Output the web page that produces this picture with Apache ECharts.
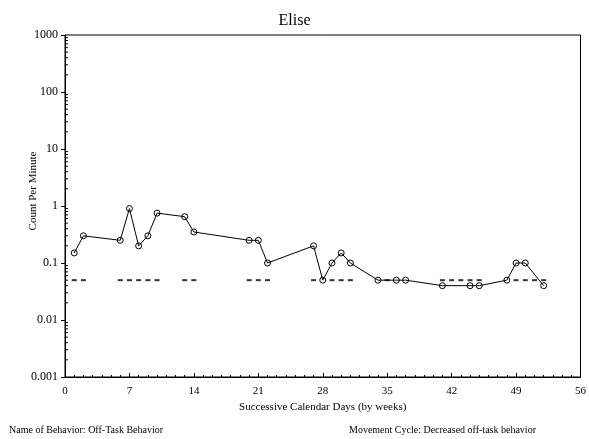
<!DOCTYPE html>
<html>
<head>
<meta charset="utf-8">
<script src="https://cdn.jsdelivr.net/npm/echarts@6/dist/echarts.min.js"></script>
<style>html,body{margin:0;padding:0;background:#fff}#c{width:589px;height:439px}</style>
</head>
<body>
<div id="c"></div>
<script>
// Data
var days = [1, 2, 6, 7, 8, 9, 10, 13, 14, 20, 21, 22, 27, 28, 29, 30, 31, 34, 36, 37, 41, 44, 45, 48, 49, 50, 52];
var counts = [0.15, 0.3, 0.25, 0.9, 0.2, 0.3, 0.75, 0.65, 0.35, 0.25, 0.25, 0.1, 0.2, 0.05, 0.1, 0.15, 0.1, 0.05, 0.05, 0.05, 0.04, 0.04, 0.04, 0.05, 0.1, 0.1, 0.04];
var floorDays = [1, 2, 6, 7, 8, 9, 10, 13, 14, 20, 21, 22, 27, 28, 29, 30, 31, 34, 35, 36, 37, 41, 42, 43, 44, 45, 48, 49, 50, 51, 52];
var floorValues = [0.05, 0.05, 0.05, 0.05, 0.05, 0.05, 0.05, 0.05, 0.05, 0.05, 0.05, 0.05, 0.05, 0.05, 0.05, 0.05, 0.05, 0.05, 0.05, 0.05, 0.05, 0.05, 0.05, 0.05, 0.05, 0.05, 0.05, 0.05, 0.05, 0.05, 0.05];
var xTicks = [0, 7, 14, 21, 28, 35, 42, 49, 56];
var yTickLabels = ['0.001', '0.01', '0.1', '1', '10', '100', '1000'];

var serif = '"Liberation Serif", "DejaVu Serif", serif';

var minorY = [];
for (var k = -3; k <= 2; k++) {
  for (var m = 2; m <= 9; m++) minorY.push([0, m * Math.pow(10, k)]);
}
var points = days.map(function (d, i) { return [d, counts[i]]; });

var chart = echarts.init(document.getElementById('c'), null, {renderer: 'canvas'});
chart.setOption({
  animation: false,
  backgroundColor: '#fff',
  title: {
    text: 'Elise', left: 'center', top: 8,
    textStyle: {fontFamily: serif, fontSize: 16, fontWeight: 'normal', color: '#000'}
  },
  grid: {left: 65, right: 7, top: 35, bottom: 62, show: true, borderColor: '#000', borderWidth: 1, backgroundColor: 'transparent'},
  xAxis: {
    type: 'value', min: 0, max: 56, interval: 7,
    axisLine: {lineStyle: {color: '#000', width: 1}},
    axisTick: {inside: true, length: 4, lineStyle: {color: '#000'}},
    minorTick: {show: true, splitNumber: 7, length: 2, lineStyle: {color: '#000'}},
    splitLine: {show: false},
    axisLabel: {fontFamily: serif, fontSize: 11, color: '#000', margin: 9,
      formatter: function (v) { return xTicks.indexOf(v) >= 0 ? String(v) : ''; }},
    name: 'Successive Calendar Days (by weeks)', nameLocation: 'middle', nameGap: 23,
    nameTextStyle: {fontFamily: serif, fontSize: 11, color: '#000'}
  },
  yAxis: {
    type: 'log', logBase: 10, min: 0.001, max: 1000,
    axisLine: {show: true, lineStyle: {color: '#000', width: 1}},
    axisTick: {show: true, inside: false, length: 4, lineStyle: {color: '#000'}},
    splitLine: {show: false},
    axisLabel: {fontFamily: serif, fontSize: 12, color: '#000', margin: 7,
      formatter: function (v) {
        var e = Math.round(Math.log10(v));
        return yTickLabels[e + 3] || '';
      }}
  },
  graphic: [
    {type: 'text', x: 33, y: 191, rotation: Math.PI / 2,
      style: {text: 'Count Per Minute', font: '11px ' + serif, fill: '#000', align: 'center', verticalAlign: 'middle'}},
    {type: 'text', left: 9, top: 425,
      style: {text: 'Name of Behavior: Off-Task Behavior', font: '10px ' + serif, fill: '#000'}},
    {type: 'text', left: 349, top: 425,
      style: {text: 'Movement Cycle: Decreased off-task behavior', font: '10px ' + serif, fill: '#000'}}
  ],
  series: [
    {
      type: 'custom', silent: true, clip: false,
      data: minorY,
      renderItem: function (params, api) {
        var p = api.coord([0, api.value(1)]);
        return {type: 'line', shape: {x1: p[0], y1: p[1], x2: p[0] + 3, y2: p[1]},
          style: {stroke: '#000', lineWidth: 1}};
      }
    },
    {
      type: 'scatter', silent: true,
      data: floorDays.map(function (d, i) { return [d, floorValues[i]]; }),
      symbol: 'rect', symbolSize: [5, 2],
      itemStyle: {color: '#000'}
    },
    {
      type: 'line', silent: true,
      data: points,
      showSymbol: false, symbol: 'none',
      lineStyle: {color: '#000', width: 1}
    },
    {
      type: 'scatter', silent: true,
      data: points,
      symbol: 'circle', symbolSize: 6,
      itemStyle: {color: '#fff', borderColor: '#000', borderWidth: 1, opacity: 1}
    }
  ]
});
</script>
</body>
</html>
